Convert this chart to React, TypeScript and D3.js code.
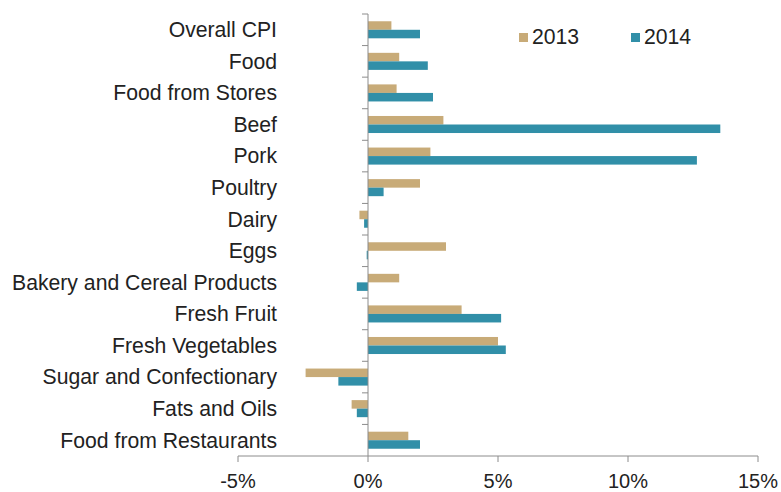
import React from "react";
import * as d3 from "d3";

const categories = [
  "Overall CPI",
  "Food",
  "Food from Stores",
  "Beef",
  "Pork",
  "Poultry",
  "Dairy",
  "Eggs",
  "Bakery and Cereal Products",
  "Fresh Fruit",
  "Fresh Vegetables",
  "Sugar and Confectionary",
  "Fats and Oils",
  "Food from Restaurants",
];
const values2013 = [0.9, 1.2, 1.1, 2.9, 2.4, 2.0, -0.33, 3.0, 1.2, 3.6, 5.0, -2.4, -0.63, 1.55];
const values2014 = [2.0, 2.3, 2.5, 13.55, 12.65, 0.6, -0.15, -0.05, -0.43, 5.12, 5.3, -1.14, -0.43, 2.0];
const seriesNames = ["2013", "2014"];
const xTicks = [-5, 0, 5, 10, 15];

const COLORS = ["#C8AB78", "#318FA8"];
const FONT = "Arial, 'Liberation Sans', Helvetica, sans-serif";

export default function App() {
  const W = 781;
  const H = 492;
  const left = 238;
  const right = 758;
  const top = 14;
  const bottom = 456;

  const x = d3.scaleLinear().domain([-5, 15]).range([left, right]);
  const y = d3
    .scaleBand<string>()
    .domain(categories)
    .range([top, bottom])
    .paddingInner(0.46)
    .paddingOuter(0.23);
  const inner = d3.scaleBand<string>().domain(seriesNames).range([0, y.bandwidth()]);
  const step = y.step();
  const series = [values2013, values2014];
  const axisColor = "#8c8c8c";

  return (
    <svg
      width={W}
      height={H}
      style={{ position: "absolute", left: 0, top: 0, background: "#fff" }}
      fontFamily={FONT}
    >
      {/* bars */}
      {categories.map((c, i) => (
        <g key={c}>
          {series.map((vals, s) => {
            const v = vals[i];
            const x0 = x(Math.min(0, v));
            const x1 = x(Math.max(0, v));
            return (
              <rect
                key={s}
                x={x0}
                y={(y(c) as number) + (inner(seriesNames[s]) as number)}
                width={Math.max(0.8, x1 - x0)}
                height={inner.bandwidth()}
                fill={COLORS[s]}
              />
            );
          })}
        </g>
      ))}

      {/* vertical axis */}
      <line x1={x(0)} x2={x(0)} y1={top} y2={bottom} stroke={axisColor} strokeWidth={1} />
      {d3.range(categories.length).map((i) => (
        <line
          key={i}
          x1={x(0) - 6}
          x2={x(0)}
          y1={top + i * step}
          y2={top + i * step}
          stroke={axisColor}
          strokeWidth={1}
        />
      ))}

      {/* category labels */}
      {categories.map((c) => (
        <text
          key={c}
          x={277}
          y={(y(c) as number) + y.bandwidth() / 2 + 7.3}
          textAnchor="end"
          fontSize={21.2}
          fill="#222"
        >
          {c}
        </text>
      ))}

      {/* x axis */}
      <line x1={left} x2={right} y1={bottom} y2={bottom} stroke={axisColor} strokeWidth={1} />
      {xTicks.map((t) => (
        <g key={t}>
          <line x1={x(t)} x2={x(t)} y1={bottom} y2={bottom + 6} stroke={axisColor} strokeWidth={1} />
          <text x={x(t)} y={488} textAnchor="middle" fontSize={20} fill="#222">
            {t + "%"}
          </text>
        </g>
      ))}

      {/* legend */}
      {seriesNames.map((n, s) => {
        const lx = [519, 631][s];
        return (
          <g key={n}>
            <rect x={lx} y={33} width={9} height={9} fill={COLORS[s]} />
            <text x={lx + 13} y={44.3} fontSize={21.2} fill="#222">
              {n}
            </text>
          </g>
        );
      })}
    </svg>
  );
}
